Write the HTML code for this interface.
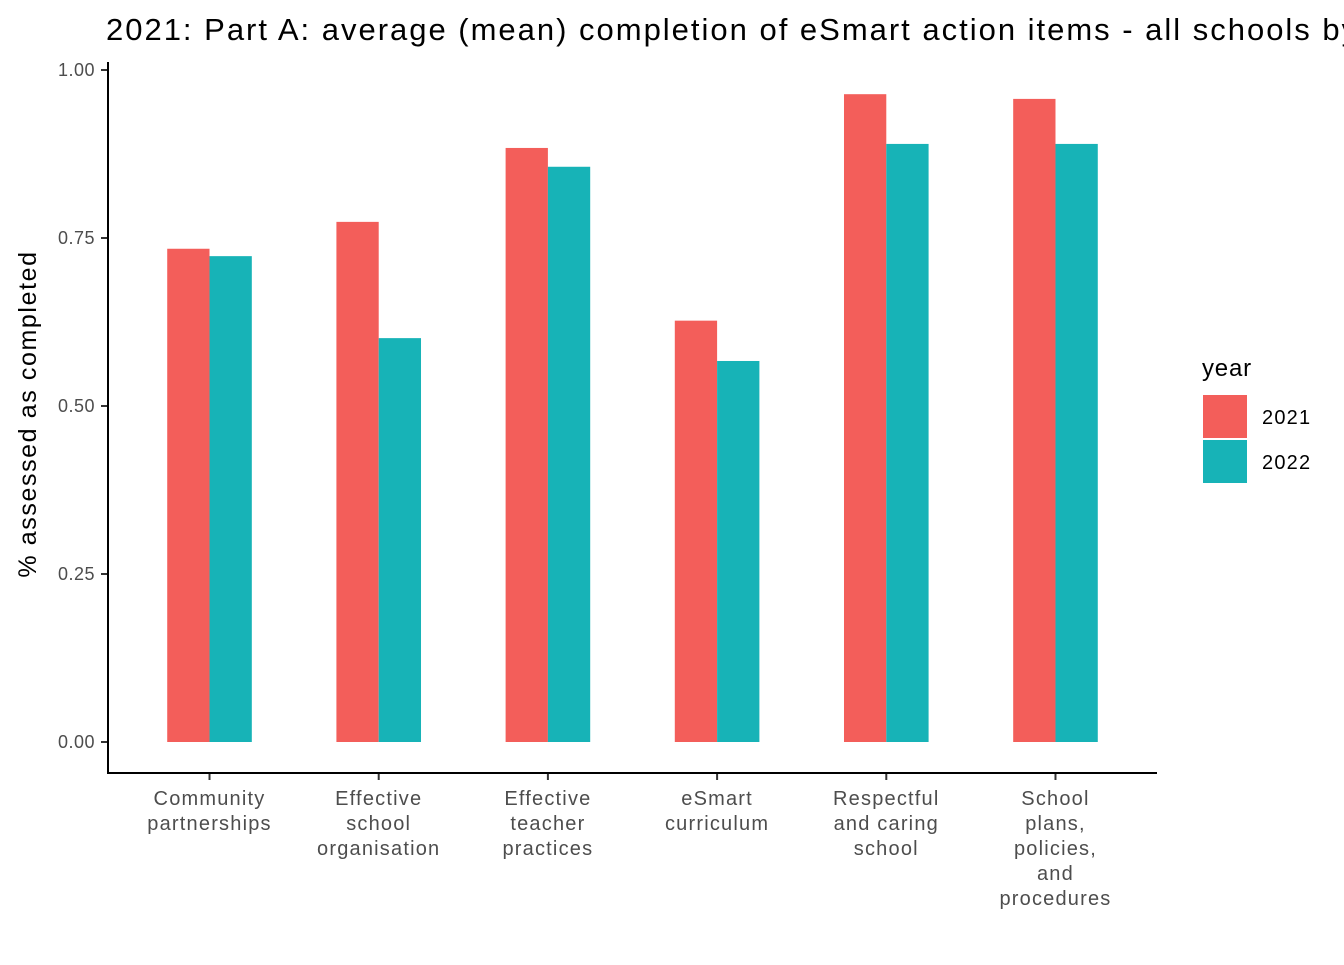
<!DOCTYPE html>
<html><head><meta charset="utf-8"><style>
body{margin:0;background:#fff;overflow:hidden;}
svg text{font-family:"Liberation Sans",Arial,sans-serif;}
</style></head><body>
<svg id="chart" width="1344" height="960">
<text x="106" y="40" font-size="31" textLength="1330" lengthAdjust="spacing" fill="#000">2021: Part A: average (mean) completion of eSmart action items - all schools by year</text>
<text transform="translate(36,414) rotate(-90)" text-anchor="middle" font-size="25" letter-spacing="1.6" fill="#000">% assessed as completed</text>
<g id="bars"></g><g id="yaxis"></g><g id="xaxis"></g>
<line x1="108" y1="62" x2="108" y2="773" stroke="#000" stroke-width="2"/>
<line x1="107" y1="773" x2="1157" y2="773" stroke="#000" stroke-width="2"/>
<g>
<text x="1202" y="376" font-size="24" letter-spacing="0.8" fill="#000">year</text>
<rect x="1203" y="395" width="44" height="43" fill="#F35E5A"/>
<rect x="1203" y="440" width="44" height="43" fill="#17B3B7"/>
<text x="1262" y="424" font-size="20" letter-spacing="1.2" fill="#000">2021</text>
<text x="1262" y="469" font-size="20" letter-spacing="1.2" fill="#000">2022</text>
</g>
</svg>
<script>
const categories=[["Community","partnerships"],["Effective","school","organisation"],["Effective","teacher","practices"],["eSmart","curriculum"],["Respectful","and caring","school"],["School","plans,","policies,","and","procedures"]];
const values2021=[0.734,0.774,0.884,0.627,0.964,0.957];
const values2022=[0.723,0.601,0.856,0.567,0.890,0.890];
const yTicks=[0,0.25,0.5,0.75,1.0];
const yTickLabels=["0.00","0.25","0.50","0.75","1.00"];
const NS="http://www.w3.org/2000/svg";
const y=v=>742-v*672;
const step=1049/(categories.length-1+1.2);
const xc=i=>108+0.6*step+i*step;
const bw=step*0.25;
function mk(tag,attrs,parent){const e=document.createElementNS(NS,tag);for(const k in attrs)e.setAttribute(k,attrs[k]);parent.appendChild(e);return e;}
const bars=document.getElementById('bars'),ya=document.getElementById('yaxis'),xa=document.getElementById('xaxis');
categories.forEach((c,i)=>{
 const a=mk('rect',{x:xc(i)-bw,y:y(values2021[i]),width:bw,height:y(0)-y(values2021[i]),fill:'#F35E5A'},bars);
 
 
 const b=mk('rect',{x:xc(i),y:y(values2022[i]),width:bw,height:y(0)-y(values2022[i]),fill:'#17B3B7'},bars);
 
 
 const t=mk('line',{x1:xc(i),x2:xc(i),y1:773,y2:780,stroke:'#333','stroke-width':2},xa);
 
 
 const tx=mk('text',{'text-anchor':'middle','font-size':20,'letter-spacing':1.2,fill:'#4d4d4d'},xa);
 
 
 c.forEach((ln,j)=>{const s=mk('tspan',{x:xc(i),y:805+j*25},tx);s.textContent=ln;});
});
yTicks.forEach((v,i)=>{
 const t=mk('line',{x1:101,x2:108,y1:y(v),y2:y(v),stroke:'#333','stroke-width':2},ya);
 
 
 const l=mk('text',{x:95,y:y(v)+6,'text-anchor':'end','font-size':18,'letter-spacing':0.5,fill:'#4d4d4d'},ya);
 
 
 l.textContent=yTickLabels[i];
});
</script>
</body></html>
